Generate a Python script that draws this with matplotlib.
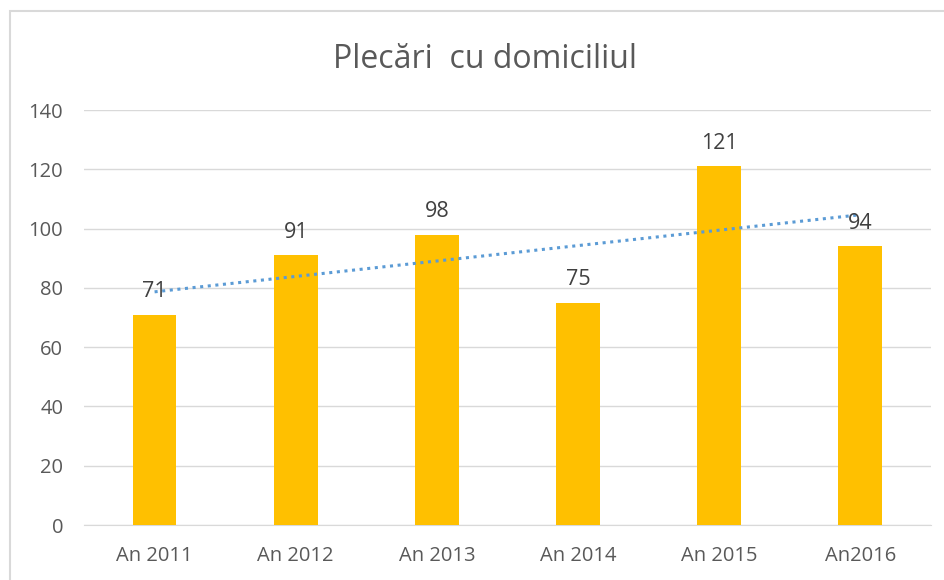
import numpy as np
import matplotlib.pyplot as plt
from matplotlib.patches import Rectangle

# date: plecari cu domiciliul pe ani
ani = ['An 2011', 'An 2012', 'An 2013', 'An 2014', 'An 2015', 'An2016']
plecari = [71, 91, 98, 75, 121, 94]

plt.rcParams['font.family'] = ['Open Sans', 'DejaVu Sans']

fig = plt.figure(figsize=(9.44, 5.8), dpi=100)
ax = fig.add_axes([0.089, 0.0948, 0.897, 0.7155])

x = np.arange(len(ani))
ax.bar(x, plecari, width=0.31, color='#FFC000', zorder=3)

# linie de tendinta liniara
coef = np.polyfit(x, plecari, 1)
ax.plot(x, np.polyval(coef, x), linestyle=(0, (1, 1.5)), color='#5B9BD5', linewidth=2.2, zorder=4)

# etichete de date
for xi, v in zip(x, plecari):
    ax.annotate(str(v), (xi, v), xytext=(0, 9), textcoords='offset points',
                ha='center', va='bottom', fontsize=15.5, color='#404040', zorder=5)

ax.set_xlim(-0.5, len(ani) - 0.5)
ax.set_ylim(0, 140)
ax.set_yticks(range(0, 141, 20))
ax.set_xticks(x)
ax.set_xticklabels(ani)
ax.grid(axis='y', color='#D9D9D9', linewidth=1, zorder=0)
ax.tick_params(axis='both', length=0, labelsize=14.5, labelcolor='#595959')
ax.tick_params(axis='y', pad=15)
ax.tick_params(axis='x', pad=15)
for s in ['top', 'right', 'left']:
    ax.spines[s].set_visible(False)
ax.spines['bottom'].set_color('#D9D9D9')

fig.text(0.514, 0.897, 'Plecări  cu domiciliul', ha='center', va='center', fontsize=23, color='#595959')

# chenarul graficului
fig.patches.append(Rectangle((0.0105, -0.1), 1.1, 1.081, transform=fig.transFigure,
                             fill=False, edgecolor='#D9D9D9', linewidth=1.5))

fig.savefig('out.png', dpi=100)
